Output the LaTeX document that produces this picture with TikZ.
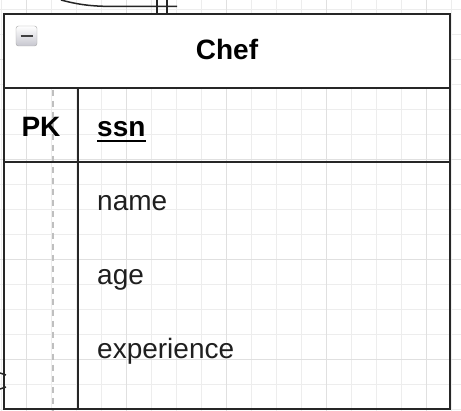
\documentclass[tikz,border=0pt]{standalone}
\usepackage{fontspec}
\setmainfont{Liberation Sans}
\begin{document}
\begin{tikzpicture}[x=1pt,y=-1pt,
  minorgrid/.style={draw=black!7,line width=1pt},
  majorgrid/.style={draw=black!12,line width=1pt},
  frame/.style={draw=black!85,line width=2pt},
  conn/.style={draw=black!85,line width=1.5pt},
  lbl/.style={inner sep=0pt,font=\fontsize{28}{31}\selectfont},
  blbl/.style={lbl,font=\fontsize{28}{31}\selectfont\bfseries},
  fieldtxt/.style={lbl,text=black!88,anchor=base west}]
\useasboundingbox (0,0) rectangle (461,411);
\fill[white] (0,0) rectangle (461,411);
% grid
\foreach \x in {1,26,...,451} \draw[minorgrid] (\x,0) -- (\x,411);
\foreach \y in {10,35,...,410} \draw[minorgrid] (0,\y) -- (461,\y);
\foreach \x in {26,126,226,326,426} \draw[majorgrid] (\x,0) -- (\x,411);
\foreach \y in {60,160,260,360} \draw[majorgrid] (0,\y) -- (461,\y);
% header fill
\fill[white] (4,14) rectangle (450,88);
% dashed connector behind PK column
\coordinate (dtop) at (53,90);
\coordinate (dbot) at (53,411);
\draw[draw=black!25,line width=1.3pt,dash pattern=on 6pt off 5pt] (dtop) -- (dbot);
% table frame
\coordinate (tl) at (4,14);
\coordinate (br) at (450,409);
\draw[frame] (tl) rectangle (br);
\draw[frame] (4,88) -- (450,88);
\draw[frame] (4,162) -- (450,162);
\draw[frame] (78,88) -- (78,409);
% collapse icon
\node[draw=black!35,top color=white,bottom color=blue!15!black!22,rounded corners=2.5pt,minimum width=21pt,minimum height=20pt,inner sep=0pt] (icon) at (26.5,36) {};
\draw[draw=black!75,line width=2.5pt] ([xshift=-6pt]icon.center) -- ([xshift=6pt]icon.center);
% texts
\node[blbl,anchor=base] (chef) at (227,60) {Chef};
\node[blbl,anchor=base] (pk) at (41,137) {PK};
\node[blbl,anchor=base west] (ssn) at (97,137) {ssn};
\draw[draw=black,line width=2pt] ([yshift=-4pt]ssn.base west) -- ([yshift=-4pt]ssn.base east);
\node[fieldtxt] (name) at (97,211) {name};
\node[fieldtxt] (age) at (97,285) {age};
\node[fieldtxt] (exp) at (97,359) {experience};
% top connector
\coordinate (cstart) at (61,0);
\coordinate (cend) at (177,6.5);
\draw[conn] (cstart) .. controls (85,6.5) and (100,6.5) .. (125,6.5) -- (cend);
\draw[conn] (157,0) -- (157,14);
\draw[conn] (167,0) -- (167,14);
% bottom-left marks
\draw[conn] (0,373) -- (6,375);
\draw[conn] (0,389) -- (6,387);
\end{tikzpicture}
\end{document}
